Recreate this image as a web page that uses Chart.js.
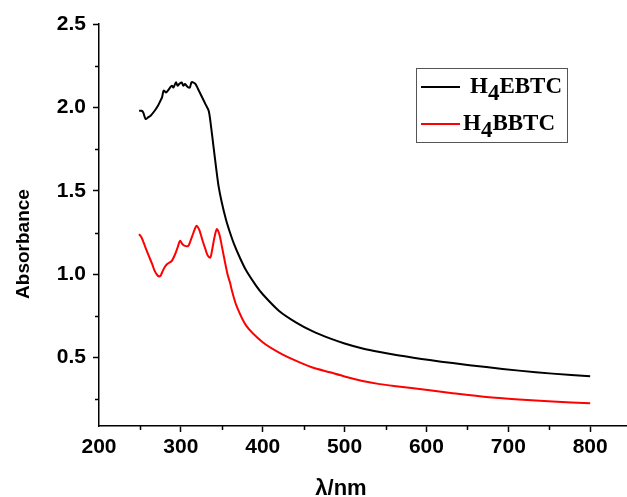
<!DOCTYPE html>
<html lang="en">
<head>
<meta charset="UTF-8">
<title>Absorbance spectra</title>
<style>
  html, body { margin: 0; padding: 0; background: #fff; }
  #wrap { width: 627px; height: 497px; }
</style>
</head>
<body>
<div id="wrap"><canvas id="chart" width="627" height="497"></canvas></div>
<script src="https://cdn.jsdelivr.net/npm/chart.js"></script>
<script>
// values
const ebtcWavelength = [249, 252, 254, 257, 260, 263, 268, 272, 275, 277, 279, 282, 284, 287, 289, 291, 294, 296, 298, 301,
  303, 305, 307, 309, 311, 313, 315, 318, 321, 324, 327, 330, 334, 337, 340, 343, 346, 350, 355, 360, 365, 372, 380, 392, 400,
  420, 441, 460, 482, 500, 522, 543, 563, 584, 604, 632, 673, 713, 754, 800];
const ebtcAbsorbance = [1.98, 1.98, 1.97, 1.93, 1.94, 1.95, 1.98, 2.01, 2.04, 2.06, 2.10, 2.09, 2.10, 2.12, 2.13, 2.12, 2.15, 2.13, 2.14, 2.15,
  2.13, 2.14, 2.13, 2.12, 2.12, 2.15, 2.15, 2.14, 2.11, 2.08, 2.05, 2.02, 1.98, 1.88, 1.76, 1.64, 1.53, 1.43, 1.33, 1.25, 1.18, 1.10, 1.02, 0.93, 0.88,
  0.78, 0.71, 0.66, 0.615, 0.585, 0.555, 0.533, 0.515, 0.499, 0.485, 0.467, 0.443, 0.422, 0.404, 0.388];

const bbtcWavelength = [249, 252, 256, 260, 265, 268, 272, 275, 277, 280, 283, 286, 289, 293, 296, 299, 302, 305, 309, 311,
  314, 317, 319, 321, 323, 326, 330, 333, 336, 338, 341, 344, 347, 350, 354, 357, 360, 363, 368, 380, 400,
  420, 441, 460, 482, 500, 522, 543, 563, 584, 604, 632, 673, 713, 754, 800];
const bbtcAbsorbance = [1.24, 1.22, 1.17, 1.12, 1.06, 1.02, 0.99, 0.99, 1.01, 1.04, 1.06, 1.07, 1.08, 1.12, 1.16, 1.20, 1.18, 1.17, 1.17, 1.19,
  1.23, 1.27, 1.29, 1.28, 1.26, 1.21, 1.15, 1.11, 1.10, 1.14, 1.22, 1.27, 1.24, 1.17, 1.07, 1.00, 0.95, 0.89, 0.81, 0.69, 0.592,
  0.53, 0.48, 0.442, 0.412, 0.387, 0.36, 0.341, 0.328, 0.316, 0.304, 0.287, 0.264, 0.249, 0.237, 0.226];

const seriesNames = ['H4EBTC', 'H4BBTC'];
const seriesColors = ['#000000', '#ff0000'];

const xMajorTicks = [200, 300, 400, 500, 600, 700, 800];
const xMinorTicks = [250, 350, 450, 550, 650, 750];
const yMajorTicks = [0.5, 1.0, 1.5, 2.0, 2.5];
const yMinorTicks = [0.25, 0.75, 1.25, 1.75, 2.25];

const xTitle = 'λ/nm';
const yTitle = 'Absorbance';

function toPoints(xs, ys) {
  return xs.map((x, i) => ({ x: x, y: ys[i] }));
}

const sansBold = (size) => ({ family: "'Liberation Sans', Arial, sans-serif", size: size, weight: 'bold' });

// small outward ticks between the labelled ones
const minorTicks = {
  id: 'minorTicks',
  afterDraw(chart) {
    const ctx = chart.ctx, xs = chart.scales.x, ys = chart.scales.y, a = chart.chartArea;
    ctx.save();
    ctx.strokeStyle = '#000';
    ctx.lineWidth = 1.5;
    ctx.beginPath();
    xMinorTicks.forEach(v => {
      const px = Math.round(xs.getPixelForValue(v)) + 0.5;
      ctx.moveTo(px, a.bottom); ctx.lineTo(px, a.bottom + 4);
    });
    yMinorTicks.forEach(v => {
      const py = Math.round(ys.getPixelForValue(v)) + 0.5;
      ctx.moveTo(a.left - 4, py); ctx.lineTo(a.left, py);
    });
    ctx.stroke();
    ctx.restore();
  }
};

// axis titles
const axisTitles = {
  id: 'axisTitles',
  afterDraw(chart) {
    const ctx = chart.ctx;
    ctx.save();
    ctx.fillStyle = '#000';
    ctx.font = "bold 19px 'Liberation Sans', Arial, sans-serif";
    ctx.textAlign = 'center';
    ctx.textBaseline = 'middle';
    ctx.translate(24, 244);
    ctx.rotate(-Math.PI / 2);
    ctx.fillText(yTitle, 0, 0);
    ctx.restore();

    ctx.save();
    ctx.fillStyle = '#000';
    ctx.font = "bold 22px 'Liberation Sans', Arial, sans-serif";
    ctx.textAlign = 'center';
    ctx.textBaseline = 'alphabetic';
    ctx.fillText(xTitle, 341, 495);
    ctx.restore();
  }
};

// boxed legend with subscript digits
const boxLegend = {
  id: 'boxLegend',
  afterDraw(chart) {
    const ctx = chart.ctx;
    ctx.save();
    ctx.strokeStyle = '#555';
    ctx.lineWidth = 1;
    ctx.strokeRect(416.5, 68.5, 151, 74);

    const rows = [
      { lineY: 87, textX: 470, base: 93 },
      { lineY: 124, textX: 463, base: 130 }
    ];
    chart.data.datasets.forEach((ds, i) => {
      const r = rows[i];
      ctx.strokeStyle = ds.borderColor;
      ctx.lineWidth = 2;
      ctx.beginPath();
      ctx.moveTo(421, r.lineY);
      ctx.lineTo(460, r.lineY);
      ctx.stroke();

      ctx.fillStyle = '#000';
      ctx.font = "bold 23px 'Liberation Serif', 'Times New Roman', serif";
      ctx.textAlign = 'left';
      ctx.textBaseline = 'alphabetic';
      let x = r.textX;
      for (const ch of ds.label) {
        const sub = /[0-9]/.test(ch);
        ctx.fillText(ch, x, r.base + (sub ? 7 : 0));
        x += ctx.measureText(ch).width;
      }
    });
    ctx.restore();
  }
};

new Chart(document.getElementById('chart').getContext('2d'), {
  type: 'line',
  data: {
    datasets: [
      {
        label: seriesNames[0],
        data: toPoints(ebtcWavelength, ebtcAbsorbance),
        borderColor: seriesColors[0],
        borderWidth: 2,
        pointRadius: 0,
        tension: 0.3
      },
      {
        label: seriesNames[1],
        data: toPoints(bbtcWavelength, bbtcAbsorbance),
        borderColor: seriesColors[1],
        borderWidth: 2,
        pointRadius: 0,
        tension: 0.3
      }
    ]
  },
  options: {
    responsive: false,
    animation: false,
    devicePixelRatio: 1,
    layout: { padding: { top: 24, right: 0, left: 0, bottom: 0 } },
    plugins: {
      legend: { display: false },
      tooltip: { enabled: false }
    },
    scales: {
      x: {
        type: 'linear',
        min: 200,
        max: 845,
        afterBuildTicks: s => { s.ticks = xMajorTicks.map(v => ({ value: v })); },
        afterFit: s => { s.height = 71; },
        ticks: {
          color: '#000',
          font: sansBold(21),
          padding: 3,
          maxRotation: 0,
          autoSkip: false
        },
        grid: {
          drawOnChartArea: false,
          tickLength: 6,
          tickWidth: 1.5,
          tickColor: c => (c.tick && c.tick.value === 200 ? 'rgba(0,0,0,0)' : '#000')
        },
        border: { color: '#000', width: 1.5 }
      },
      y: {
        type: 'linear',
        min: 0.09,
        max: 2.5,
        afterBuildTicks: s => { s.ticks = yMajorTicks.map(v => ({ value: v })); },
        afterFit: s => { s.width = 99; },
        ticks: {
          color: '#000',
          font: sansBold(21),
          padding: 7,
          callback: v => Number(v).toFixed(1)
        },
        grid: {
          drawOnChartArea: false,
          tickLength: 6,
          tickWidth: 1.5,
          tickColor: '#000'
        },
        border: { color: '#000', width: 1.5 }
      }
    }
  },
  plugins: [minorTicks, axisTitles, boxLegend]
});
</script>
</body>
</html>
